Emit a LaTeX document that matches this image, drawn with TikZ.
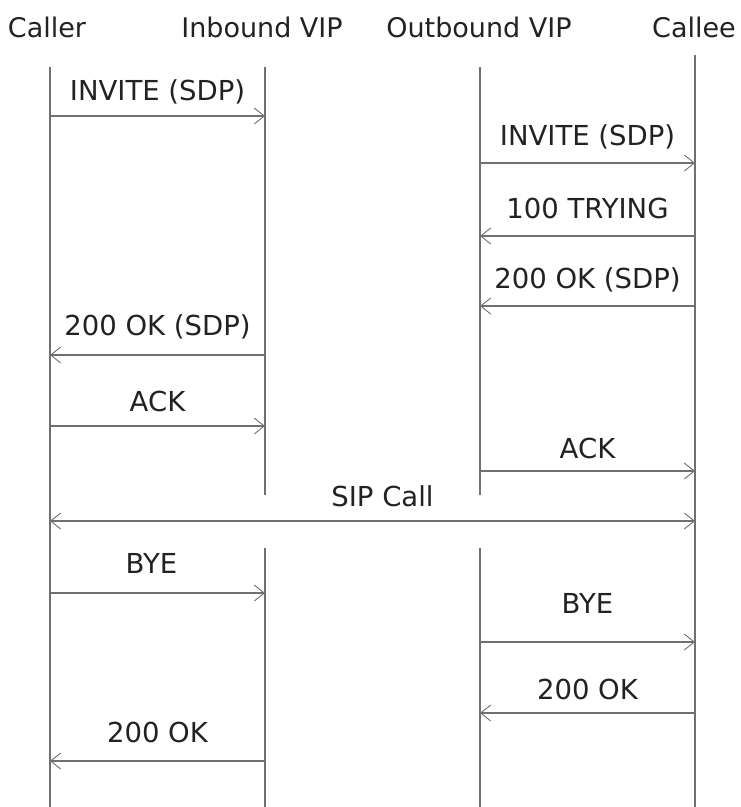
\documentclass[tikz,border=0pt]{standalone}
\usepackage{fontspec}
\setmainfont{DejaVu Sans}
\usetikzlibrary{arrows.meta}
\definecolor{lifegray}{RGB}{112,112,112}
\definecolor{textgray}{RGB}{34,34,34}

\begin{document}
\begin{tikzpicture}[x=1pt,y=-1pt,
  barb/.tip={Straight Barb[length=10pt,width=16pt,line width=0.9pt]},
  lifeline/.style={draw=lifegray,line width=1.3pt},
  msg/.style={draw=lifegray,line width=1.3pt,-barb},
  lbl/.style={anchor=base,inner sep=0pt,text=textgray,font=\fontsize{27.5}{32}\selectfont},
  head/.style={anchor=base,inner sep=0pt,text=textgray,font=\fontsize{27}{32}\selectfont}]
\useasboundingbox (0,0) rectangle (740,807);
% lifelines
\coordinate (caller) at (50,0);
\coordinate (inbound) at (265,0);
\coordinate (outbound) at (480,0);
\coordinate (callee) at (695,0);
\node[head] (hcaller) at (47,37) {Caller};
\node[head] (hinbound) at (262,37) {Inbound VIP};
\node[head] (houtbound) at (479,37) {Outbound VIP};
\node[head] (hcallee) at (694,37) {Callee};
\draw[lifeline] (caller |- 0,67) -- (caller |- 0,807);
\draw[lifeline] (inbound |- 0,67) -- (inbound |- 0,495);
\draw[lifeline] (inbound |- 0,548) -- (inbound |- 0,807);
\draw[lifeline] (outbound |- 0,67) -- (outbound |- 0,495);
\draw[lifeline] (outbound |- 0,548) -- (outbound |- 0,807);
\draw[lifeline] (callee |- 0,55) -- (callee |- 0,807);
% messages
\draw[msg] (caller |- 0,116) -- node[lbl,yshift=16] (m1) {INVITE (SDP)} (inbound |- 0,116);
\draw[msg] (outbound |- 0,163) -- node[lbl,yshift=18] (m2) {INVITE (SDP)} (callee |- 0,163);
\draw[msg] (callee |- 0,236) -- node[lbl,yshift=18] (m3) {100 TRYING} (outbound |- 0,236);
\draw[msg] (callee |- 0,306) -- node[lbl,yshift=18] (m4) {200 OK (SDP)} (outbound |- 0,306);
\draw[msg] (inbound |- 0,355) -- node[lbl,yshift=20] (m5) {200 OK (SDP)} (caller |- 0,355);
\draw[msg] (caller |- 0,426) -- node[lbl,yshift=15] (m6) {ACK} (inbound |- 0,426);
\draw[msg] (outbound |- 0,471) -- node[lbl,yshift=13] (m7) {ACK} (callee |- 0,471);
\draw[msg,barb-barb] (caller |- 0,521) -- node[lbl,yshift=15,xshift=10] (m8) {SIP Call} (callee |- 0,521);
\draw[msg] (caller |- 0,593) -- node[lbl,yshift=20,xshift=-6] (m9) {BYE} (inbound |- 0,593);
\draw[msg] (outbound |- 0,642) -- node[lbl,yshift=29] (m10) {BYE} (callee |- 0,642);
\draw[msg] (callee |- 0,713) -- node[lbl,yshift=14] (m11) {200 OK} (outbound |- 0,713);
\draw[msg] (inbound |- 0,761) -- node[lbl,yshift=19] (m12) {200 OK} (caller |- 0,761);
\end{tikzpicture}
\end{document}
